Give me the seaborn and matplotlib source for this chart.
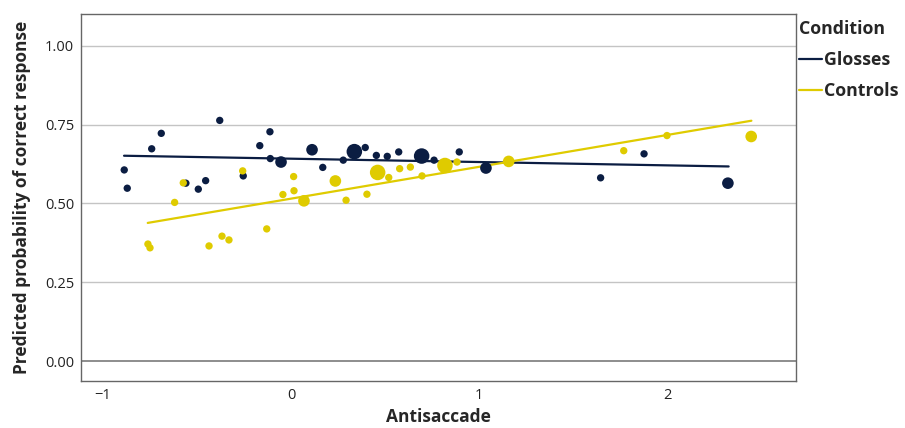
import matplotlib
matplotlib.use("Agg")
import matplotlib.pyplot as plt
import seaborn as sns
import pandas as pd
import numpy as np

# ---- data ----
gl_x = [-0.887, -0.871, -0.741, -0.690, -0.559, -0.493, -0.454, -0.379, -0.254, -0.166,
        -0.112, -0.110, -0.053, 0.112, 0.169, 0.278, 0.337, 0.395, 0.454, 0.512,
        0.573, 0.695, 0.761, 0.895, 1.037, 1.647, 1.878, 2.324]
gl_y = [0.606, 0.548, 0.673, 0.722, 0.564, 0.545, 0.572, 0.763, 0.587, 0.683,
        0.727, 0.642, 0.631, 0.670, 0.614, 0.637, 0.664, 0.677, 0.652, 0.649,
        0.663, 0.650, 0.637, 0.663, 0.612, 0.581, 0.657, 0.564]
gl_n = [1, 1, 1, 1, 1, 1, 1, 1, 1, 1,
        1, 1, 2, 2, 1, 1, 3, 1, 1, 1,
        1, 3, 1, 1, 2, 1, 1, 2]

ct_x = [-0.761, -0.750, -0.619, -0.573, -0.436, -0.367, -0.330, -0.257, -0.129, -0.043,
        0.014, 0.016, 0.069, 0.236, 0.293, 0.404, 0.461, 0.520, 0.578, 0.635,
        0.697, 0.819, 0.883, 1.158, 1.770, 2.000, 2.448]
ct_y = [0.371, 0.359, 0.503, 0.565, 0.365, 0.396, 0.384, 0.603, 0.419, 0.528,
        0.585, 0.540, 0.508, 0.571, 0.510, 0.529, 0.598, 0.582, 0.610, 0.615,
        0.587, 0.620, 0.631, 0.633, 0.667, 0.715, 0.712]
ct_n = [1, 1, 1, 1, 1, 1, 1, 1, 1, 1,
        1, 1, 2, 2, 1, 1, 3, 1, 1, 1,
        1, 3, 1, 2, 1, 1, 2]

# fitted line endpoints
fit_gl_x = [-0.888, 2.328]
fit_gl_y = [0.651, 0.617]
fit_ct_x = [-0.762, 2.449]
fit_ct_y = [0.438, 0.762]

conditions = ["Glosses", "Controls"]
colors = {"Glosses": "#0b1d42", "Controls": "#dfcb00"}

pts = pd.concat([
    pd.DataFrame({"x": gl_x, "y": gl_y, "n": gl_n, "Condition": "Glosses"}),
    pd.DataFrame({"x": ct_x, "y": ct_y, "n": ct_n, "Condition": "Controls"}),
])
fits = pd.concat([
    pd.DataFrame({"x": fit_gl_x, "y": fit_gl_y, "Condition": "Glosses"}),
    pd.DataFrame({"x": fit_ct_x, "y": fit_ct_y, "Condition": "Controls"}),
])

sns.set_style("white")
plt.rcParams["font.family"] = ["Open Sans", "DejaVu Sans"]

fig = plt.figure(figsize=(9.05, 4.28), dpi=100)
ax = fig.add_axes([0.0895, 0.110, 0.790, 0.857])

for y in [0.25, 0.5, 0.75, 1.0]:
    ax.axhline(y, color="#c4c4c4", lw=1.0, zorder=0)
ax.axhline(0.0, color="#7a7a7a", lw=1.2, zorder=0)

sns.lineplot(data=fits, x="x", y="y", hue="Condition", hue_order=conditions,
             palette=colors, lw=1.6, ax=ax, zorder=2, legend=True)
sns.scatterplot(data=pts, x="x", y="y", hue="Condition", hue_order=conditions,
                palette=colors, size="n", sizes={1: 28, 2: 70, 3: 125},
                linewidth=0, ax=ax, zorder=3, legend=False)

ax.set_xlim(-1.117, 2.686)
ax.set_ylim(-0.063, 1.10)
ax.set_xticks([-1, 0, 1, 2])
ax.set_xticklabels(["\u22121", "0", "1", "2"])
ax.set_yticks([0, 0.25, 0.5, 0.75, 1.0])
ax.set_yticklabels(["0.00", "0.25", "0.50", "0.75", "1.00"])
ax.tick_params(axis="both", length=0, labelsize=10.5, colors="#222222", pad=5)
ax.set_xlabel("Antisaccade", fontsize=12.5, fontweight="bold", labelpad=4)
ax.set_ylabel("Predicted probability of correct response", fontsize=12.5,
              fontweight="bold", labelpad=10)
for s in ax.spines.values():
    s.set_color("#666666")
    s.set_linewidth(1.0)

handles, labels = ax.get_legend_handles_labels()
leg = ax.legend(handles, labels, title="Condition", loc="upper left",
                bbox_to_anchor=(0.879, 0.962), bbox_transform=fig.transFigure,
                frameon=False, fontsize=12.8, title_fontsize=12.8,
                handlelength=1.3, handletextpad=0.1, labelspacing=0.75,
                borderaxespad=0, borderpad=0.2)
leg._legend_box.align = "left"
leg.get_title().set_fontweight("bold")
for t in leg.get_texts():
    t.set_fontweight("bold")

fig.savefig("out.png", dpi=100)
